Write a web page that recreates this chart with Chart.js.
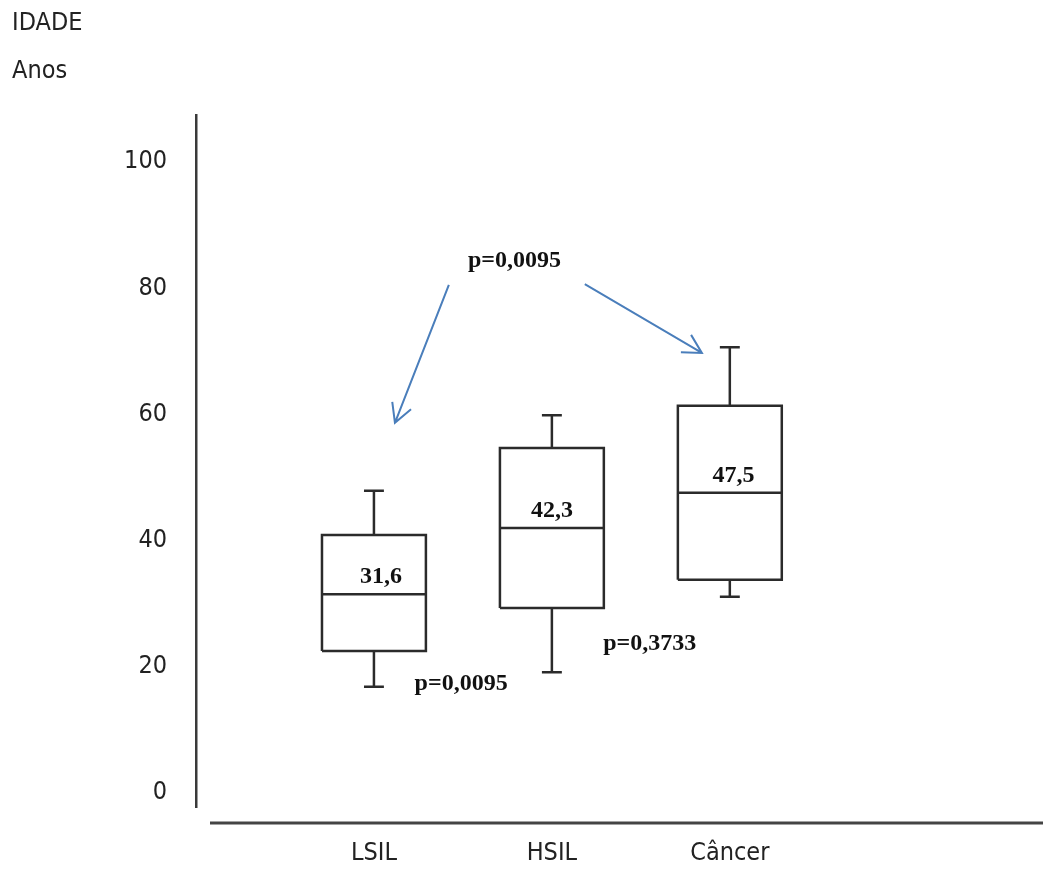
<!DOCTYPE html>
<html>
<head>
<meta charset="utf-8">
<title>IDADE</title>
<script src="https://cdn.jsdelivr.net/npm/chart.js@4.4.1/dist/chart.umd.min.js"></script>
<style>
  html, body { margin: 0; padding: 0; background: #fff; }
  #wrap { width: 1043px; height: 869px; }
</style>
</head>
<body>
<div id="wrap"><canvas id="idade" width="1043" height="869"></canvas></div>
<script>
// grupos e estatisticas (anos)
var categorias = ['LSIL', 'HSIL', 'Câncer'];
var minimos = [16.7, 19.0, 31.0];
var quartil1 = [22.4, 29.2, 33.7];
var medianas = [31.4, 41.9, 47.5];
var quartil3 = [40.8, 54.6, 61.3];
var maximos = [47.8, 59.8, 70.6];
var rotulosMedia = ['31,6', '42,3', '47,5'];
var ticksY = [0, 20, 40, 60, 80, 100];

// p-valores e setas, em coordenadas dos eixos
var pValores = [
    {texto: 'p=0,0095', x: 1.79, y: 83.3},
    {texto: 'p=0,0095', x: 1.49, y: 16.2},
    {texto: 'p=0,3733', x: 2.55, y: 22.5}
];
var setas = [
    {de: [1.421, 80.5], para: [1.118, 58.6]},
    {de: [2.185, 80.6], para: [2.843, 69.7]}
];

var fonteEstreita = "'DejaVu Sans Condensed', 'Liberation Sans Narrow', Arial, sans-serif";
var fonteNegrito = "bold 24px 'Liberation Serif', 'Times New Roman', serif";
var meiaCaixa = 0.292;
var meiaHaste = 0.056;
var deslocRotulo = [0.04, 0, 0.02];

// cada caixa vira uma linha com falhas entre os segmentos
function pontosCaixa(i) {
    var x = i + 1, w = meiaCaixa, c = meiaHaste;
    var falha = {x: x, y: null};
    return [
        {x: x - w, y: quartil1[i]}, {x: x + w, y: quartil1[i]},
        {x: x + w, y: quartil3[i]}, {x: x - w, y: quartil3[i]},
        {x: x - w, y: quartil1[i]}, falha,
        {x: x - w, y: medianas[i]}, {x: x + w, y: medianas[i]}, falha,
        {x: x, y: quartil3[i]}, {x: x, y: maximos[i]}, falha,
        {x: x - c, y: maximos[i]}, {x: x + c, y: maximos[i]}, falha,
        {x: x, y: quartil1[i]}, {x: x, y: minimos[i]}, falha,
        {x: x - c, y: minimos[i]}, {x: x + c, y: minimos[i]}
    ];
}

var datasets = categorias.map(function (nome, i) {
    return {
        label: nome,
        data: pontosCaixa(i),
        showLine: true,
        spanGaps: false,
        borderColor: '#2b2b2b',
        borderWidth: 2.5,
        pointRadius: 0,
        fill: false
    };
});

var anotacoes = {
    id: 'anotacoes',
    afterDatasetsDraw: function (chart) {
        var ctx = chart.ctx;
        var sx = chart.scales.x, sy = chart.scales.y, area = chart.chartArea;
        ctx.save();

        // eixo horizontal, solto do eixo vertical
        ctx.strokeStyle = '#444';
        ctx.lineWidth = 3;
        ctx.beginPath();
        ctx.moveTo(area.left + 14, area.bottom + 16);
        ctx.lineTo(chart.width, area.bottom + 16);
        ctx.stroke();

        ctx.font = fonteNegrito;
        ctx.fillStyle = '#111';
        ctx.textAlign = 'center';
        ctx.textBaseline = 'alphabetic';
        categorias.forEach(function (nome, i) {
            ctx.fillText(rotulosMedia[i], sx.getPixelForValue(i + 1 + deslocRotulo[i]), sy.getPixelForValue(medianas[i]) - 11);
        });
        pValores.forEach(function (p) {
            ctx.fillText(p.texto, sx.getPixelForValue(p.x), sy.getPixelForValue(p.y));
        });

        // setas azuis
        ctx.strokeStyle = '#4a7ebb';
        ctx.lineWidth = 2;
        setas.forEach(function (s) {
            var x0 = sx.getPixelForValue(s.de[0]), y0 = sy.getPixelForValue(s.de[1]);
            var x1 = sx.getPixelForValue(s.para[0]), y1 = sy.getPixelForValue(s.para[1]);
            var ang = Math.atan2(y0 - y1, x0 - x1);
            ctx.beginPath();
            ctx.moveTo(x0, y0);
            ctx.lineTo(x1, y1);
            ctx.moveTo(x1 + 21 * Math.cos(ang - 0.5), y1 + 21 * Math.sin(ang - 0.5));
            ctx.lineTo(x1, y1);
            ctx.lineTo(x1 + 21 * Math.cos(ang + 0.5), y1 + 21 * Math.sin(ang + 0.5));
            ctx.stroke();
        });
        ctx.restore();
    }
};

var ctx = document.getElementById('idade').getContext('2d');
var grafico = new Chart(ctx, {
    type: 'scatter',
    data: {datasets: datasets},
    plugins: [anotacoes],
    options: {
        responsive: false,
        animation: false,
        layout: {padding: {left: 12, right: 0, top: 0, bottom: 0}},
        plugins: {
            legend: {display: false},
            tooltip: {enabled: false},
            title: {
                display: true,
                text: 'IDADE',
                align: 'start',
                color: '#222',
                font: {family: fonteEstreita, size: 25, weight: 'normal'},
                padding: {top: 8.3, bottom: 0}
            },
            subtitle: {
                display: true,
                text: 'Anos',
                align: 'start',
                color: '#222',
                font: {family: fonteEstreita, size: 25, weight: 'normal'},
                padding: {top: 18, bottom: 28.7}
            }
        },
        scales: {
            x: {
                type: 'linear',
                min: 0,
                max: 4.76,
                grid: {display: false, drawTicks: false},
                border: {display: false},
                afterBuildTicks: function (scale) {
                    scale.ticks = categorias.map(function (c, i) { return {value: i + 1}; });
                },
                afterFit: function (scale) { scale.height = 62; },
                ticks: {
                    padding: 31.5,
                    color: '#222',
                    font: {family: fonteEstreita, size: 25},
                    callback: function (value, index) { return categorias[index]; }
                }
            },
            y: {
                min: -2.38,
                max: 107.46,
                grid: {display: false, drawTicks: false},
                border: {display: true, color: '#3a3a3a', width: 2.5},
                afterBuildTicks: function (scale) {
                    scale.ticks = ticksY.map(function (v) { return {value: v}; });
                },
                afterFit: function (scale) { scale.width = 184; },
                ticks: {
                    padding: 29,
                    color: '#222',
                    font: {family: fonteEstreita, size: 25}
                }
            }
        }
    }
});
</script>
</body>
</html>
